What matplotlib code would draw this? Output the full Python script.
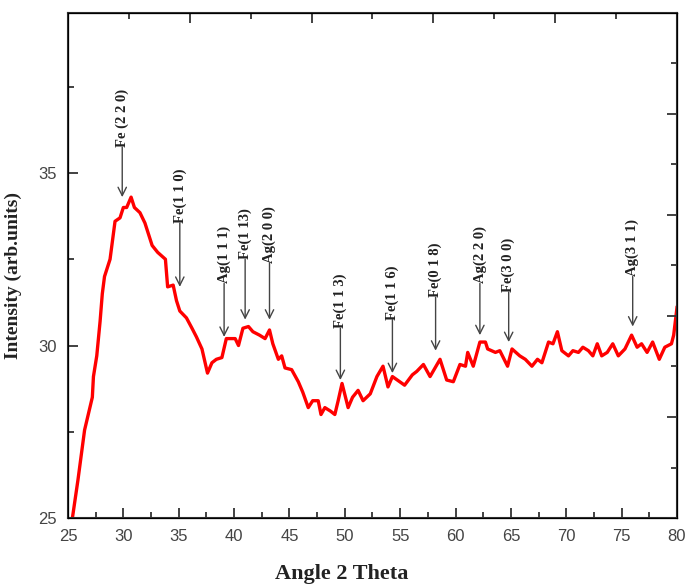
import matplotlib
matplotlib.use("Agg")
import matplotlib.pyplot as plt
from matplotlib.ticker import MultipleLocator, NullFormatter

# XRD pattern
angle = [25.4, 25.9, 26.5, 27.2, 27.3, 27.6, 27.9, 28.1, 28.3, 28.8, 29.25, 29.7,
         30.0, 30.3, 30.7, 31.0, 31.5, 31.95, 32.2, 32.6, 33.1, 33.8, 34.0, 34.5,
         34.8, 35.1, 35.7, 36.2, 36.6, 37.1, 37.6, 38.0, 38.4, 38.9, 39.3, 39.6,
         40.1, 40.4, 40.8, 41.3, 41.7, 42.3, 42.8, 43.2, 43.5, 44.0, 44.3, 44.6,
         45.2, 45.8, 46.2, 46.7, 47.1, 47.6, 47.85, 48.2, 48.7, 49.1, 49.4, 49.75,
         50.3, 50.7, 51.2, 51.65, 52.3, 52.9, 53.45, 53.9, 54.3, 55.4, 56.1, 56.5,
         57.1, 57.7, 58.6, 59.2, 59.8, 60.4, 60.9, 61.1, 61.6, 62.2, 62.7, 62.9,
         63.6, 64.0, 64.7, 65.1, 65.8, 66.3, 66.9, 67.4, 67.8, 68.4, 68.8, 69.2,
         69.6, 70.2, 70.6, 71.1, 71.5, 72.0, 72.4, 72.8, 73.2, 73.7, 74.2, 74.7,
         75.3, 75.9, 76.4, 76.8, 77.3, 77.8, 78.4, 78.9, 79.5, 79.7, 80.0]
intensity = [25.0, 26.1, 27.55, 28.5, 29.1, 29.7, 30.7, 31.5, 32.0, 32.5, 33.6, 33.7,
             34.0, 34.0, 34.3, 34.0, 33.85, 33.55, 33.3, 32.9, 32.7, 32.5, 31.7, 31.75,
             31.3, 31.0, 30.8, 30.5, 30.25, 29.9, 29.2, 29.5, 29.6, 29.65, 30.2, 30.2,
             30.2, 30.0, 30.5, 30.55, 30.4, 30.3, 30.2, 30.45, 30.05, 29.6, 29.7, 29.35,
             29.3, 28.95, 28.65, 28.2, 28.4, 28.4, 28.0, 28.2, 28.1, 28.0, 28.4, 28.9,
             28.2, 28.5, 28.7, 28.4, 28.6, 29.1, 29.4, 28.8, 29.1, 28.85, 29.15, 29.25,
             29.45, 29.1, 29.6, 29.0, 28.95, 29.45, 29.4, 29.8, 29.4, 30.1, 30.1, 29.9,
             29.8, 29.85, 29.4, 29.9, 29.7, 29.6, 29.4, 29.6, 29.5, 30.1, 30.05, 30.4,
             29.85, 29.7, 29.85, 29.8, 29.95, 29.85, 29.7, 30.05, 29.7, 29.8, 30.05, 29.7,
             29.9, 30.3, 29.95, 30.05, 29.8, 30.1, 29.6, 29.95, 30.05, 30.3, 31.1]

# peak labels: position, label bottom, arrow tip
peak_labels = ["Fe (2 2 0)", "Fe(1 1 0)", "Ag(1 1 1)", "Fe(1 13)", "Ag(2 0 0)",
               "Fe(1 1 3)", "Fe(1 1 6)", "Fe(0 1 8)", "Ag(2 2 0)", "Fe(3 0 0)", "Ag(3 1 1)"]
peak_x = [29.9, 35.1, 39.1, 41.0, 43.2, 49.6, 54.3, 58.2, 62.2, 64.8, 76.0]
label_y = [35.75, 33.55, 31.8, 32.5, 32.4, 30.5, 30.75, 31.4, 31.8, 31.55, 32.0]
tip_y = [34.3, 31.7, 30.25, 30.75, 30.75, 29.0, 29.2, 29.85, 30.3, 30.1, 30.55]

plt.rcParams['font.family'] = ['Liberation Sans', 'DejaVu Sans']
serif = 'Liberation Serif'
frame = '#333333'

fig = plt.figure(figsize=(6.88, 5.86), dpi=100)
ax = fig.add_axes([0.0988, 0.116, 0.8852, 0.862])

ax.plot(angle, intensity, color='red', linewidth=2.4, solid_joinstyle='round')

for lab, x, ly, ty in zip(peak_labels, peak_x, label_y, tip_y):
    ax.text(x, ly, lab, rotation=90, ha='center', va='bottom', fontsize=10.5,
            fontweight='bold', family=serif, color='#222222')
    ax.annotate('', xy=(x, ty), xytext=(x, ly),
                arrowprops=dict(arrowstyle='->,head_length=0.6,head_width=0.3',
                                color='#444444', lw=1.0, shrinkA=0, shrinkB=0))

ax.set_xlim(25, 80)
ax.set_ylim(25, 39.64)
ax.xaxis.set_major_locator(MultipleLocator(5))
ax.xaxis.set_minor_locator(MultipleLocator(2.5))
ax.yaxis.set_major_locator(MultipleLocator(5))
ax.yaxis.set_minor_locator(MultipleLocator(2.5))
ax.tick_params(which='both', direction='in', colors=frame, labelcolor='#444444',
               labelsize=12, width=1.3)
ax.tick_params(which='major', length=7, pad=8)
ax.tick_params(which='minor', length=4)
for s in ax.spines.values():
    s.set_color(frame)
    s.set_linewidth(1.5)

# top and right axes have their own tick spacing in the original
top = ax.twiny()
top.set_xlim(0, 5)
right = ax.twinx()
right.set_ylim(0, 5)
for a, axis in ((top, top.xaxis), (right, right.yaxis)):
    axis.set_major_locator(MultipleLocator(1))
    axis.set_minor_locator(MultipleLocator(0.5))
    axis.set_major_formatter(NullFormatter())
    a.tick_params(which='both', direction='in', colors=frame, width=1.3)
    a.tick_params(which='major', length=7)
    a.tick_params(which='minor', length=4)
top.tick_params(left=False, right=False, labelleft=False, labelright=False)
right.tick_params(top=False, bottom=False, labeltop=False, labelbottom=False)

ax.set_xlabel('Angle 2 Theta', fontsize=16, fontweight='bold', family=serif,
              color='#222222')
ax.set_ylabel('Intensity (arb.units)', fontsize=14, fontweight='bold', family=serif,
              color='#222222')
ax.xaxis.set_label_coords(0.45, -0.092)
ax.yaxis.set_label_coords(-0.075, 0.48)

fig.savefig('out.png', dpi=100)
